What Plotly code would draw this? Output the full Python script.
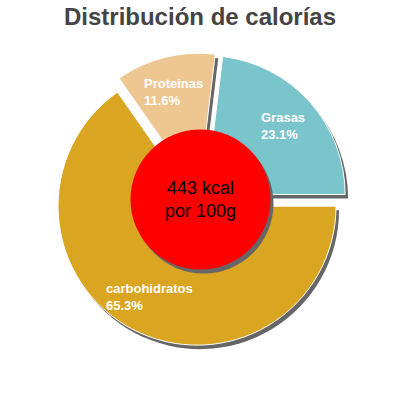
"""Calorie distribution pie with shadow and centre badge."""
import math

import plotly.graph_objects as go

# data
labels = ["carbohidratos", "Proteinas", "Grasas"]
percents = [65.3, 11.6, 23.1]
slice_colors = ["#daa520", "#eec691", "#7ac4cc"]
title_text = "Distribución de calorías"
center_text = "443 kcal<br>por 100g"

# layout constants, in pixels from the top-left of the 400x400 page
W = H = 400
CX, CY = 200.5, 199.5
RADIUS = 139
PULL = 0.054
SHADOW_DX, SHADOW_DY = 3, 4
SHADOW_COLOR = "#666666"
BADGE_R = 70
FONT = "Liberation Sans"
LABEL_SIZE = 13


def px(x, y):
    """Page pixel -> paper coordinates."""
    return x / W, 1 - y / H


def pie_domain(dx=0, dy=0):
    half = RADIUS * (1 + PULL)
    x0, y0 = px(CX + dx - half, CY + dy + half)
    x1, y1 = px(CX + dx + half, CY + dy - half)
    return dict(x=[x0, x1], y=[y0, y1])


fig = go.Figure()

# Shadow pie (same geometry, shifted)
fig.add_trace(go.Pie(
    labels=labels,
    values=percents,
    sort=False,
    direction="clockwise",
    rotation=90,
    pull=[PULL] * len(percents),
    marker=dict(colors=[SHADOW_COLOR] * len(percents), line=dict(width=0)),
    textinfo="none",
    hoverinfo="skip",
    domain=pie_domain(SHADOW_DX, SHADOW_DY),
    showlegend=False,
))

# Main pie
fig.add_trace(go.Pie(
    labels=labels,
    values=percents,
    sort=False,
    direction="clockwise",
    rotation=90,
    pull=[PULL] * len(percents),
    marker=dict(colors=slice_colors, line=dict(color="white", width=1)),
    textinfo="none",
    hovertemplate="%{label}: %{value}%<extra></extra>",
    domain=pie_domain(),
    showlegend=False,
))

# Slice labels at ~3/4 radius along each slice's mid angle
annotations = []
total = sum(percents)
cum = 0
for lab, v in zip(labels, percents):
    mid = math.radians(90 + 360 * (cum + v / 2) / total)
    cum += v
    dist = RADIUS * (PULL + 0.74)
    lx, ly = px(CX + dist * math.sin(mid), CY - dist * math.cos(mid))
    annotations.append(dict(
        x=lx, y=ly, xref="paper", yref="paper",
        text=f"{lab}<br>{v:.1f}%", showarrow=False,
        xanchor="center", yanchor="middle", align="left",
        font=dict(family=FONT, size=LABEL_SIZE, color="white", weight="bold"),
    ))

# Centre text
cx_p, cy_p = px(CX, CY)
annotations.append(dict(
    x=cx_p, y=cy_p, xref="paper", yref="paper",
    text=center_text, showarrow=False,
    xanchor="center", yanchor="middle",
    font=dict(family=FONT, size=18, color="black"),
))

# Red centre badge and its shadow
shapes = []
for dx, dy, col in [(SHADOW_DX, SHADOW_DY, SHADOW_COLOR), (0, 0, "#ff0000")]:
    x0, y0 = px(CX + dx - BADGE_R, CY + dy + BADGE_R)
    x1, y1 = px(CX + dx + BADGE_R, CY + dy - BADGE_R)
    shapes.append(dict(
        type="circle", xref="paper", yref="paper", layer="above",
        x0=x0, x1=x1, y0=y0, y1=y1,
        fillcolor=col, line=dict(width=0),
    ))

fig.update_layout(
    width=W,
    height=H,
    margin=dict(l=0, r=0, t=0, b=0),
    paper_bgcolor="white",
    plot_bgcolor="white",
    title=dict(
        text=title_text,
        x=0.5, xanchor="center",
        y=px(0, 17)[1], yref="container", yanchor="middle",
        font=dict(family=FONT, size=24, color="#444444", weight="bold"),
    ),
    annotations=annotations,
    shapes=shapes,
    showlegend=False,
)

# drop the browser's default body margin so the 400x400 figure fills the page
fig.write_html(
    "out.html",
    config={"displayModeBar": False},
    post_script="document.body.style.margin = '0';",
)
